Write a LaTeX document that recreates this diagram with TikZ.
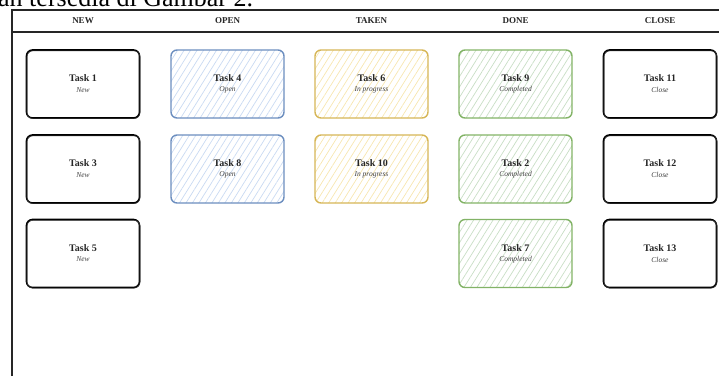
\documentclass[tikz,border=0pt]{standalone}
\usepackage{fontspec}
\setmainfont{Liberation Serif}
\usetikzlibrary{patterns.meta,calc}
\definecolor{bluestroke}{HTML}{6C8EBF}
\definecolor{bluefill}{HTML}{C9DAF2}
\definecolor{yelstroke}{HTML}{D6B656}
\definecolor{yelfill}{HTML}{F7E6B0}
\definecolor{grnstroke}{HTML}{82B366}
\definecolor{grnfill}{HTML}{C8DEC5}
\tikzset{
  hdr/.style={font=\bfseries\fontsize{9}{11}\selectfont, text=black!85},
  ttl/.style={font=\bfseries\fontsize{10}{12}\selectfont, text=black!85},
  sub/.style={font=\itshape\fontsize{7.5}{9}\selectfont, text=black!75},
  card/.style={rounded corners=6pt, line width=1.4pt},
  hatch/.style={pattern={Lines[angle=58,distance=5.5pt,line width=0.7pt]}, pattern color=#1},
  frame/.style={line width=1.1pt, black!85},
}
\newcommand{\taskcard}[6]{% name, cx, cy, title, subtitle, kind
  \coordinate (#1) at (#2,#3);
  \ifx#6k
    \draw[card, line width=1.6pt, black] ($(#1)+(-56.5,-34)$) rectangle ($(#1)+(56.5,34)$);
    \draw[card, line width=0.6pt, black!80] ($(#1)+(-56,-33.2)$) rectangle ($(#1)+(57,34.6)$);
  \else
    \path[card, hatch=#6fill] ($(#1)+(-56.5,-34)$) rectangle ($(#1)+(56.5,34)$);
    \draw[card, #6stroke] ($(#1)+(-56.5,-34)$) rectangle ($(#1)+(56.5,34)$);
  \fi
  \node[ttl] (#1t) at ($(#1)+(0,-5.5)$) {#4};
  \node[sub] (#1s) at ($(#1)+(0,6)$) {#5};
}
\begin{document}
\begin{tikzpicture}[x=1pt,y=-1pt]
\useasboundingbox (0,0) rectangle (719,376);
\clip (0,0) rectangle (719,376);
\node[anchor=base west, inner sep=0pt, font=\fontsize{26}{30}\selectfont] (cap) at (-2,6.5) {an tersedia di Gambar 2.};
% frame
\draw[frame] (12,376) -- (12,10) -- (719,10);
\draw[frame, line width=1.5pt] (12,32) -- (719,32);
% headers
\node[hdr] (hnew) at (83,21) {NEW};
\node[hdr] (hopen) at (227.5,21) {OPEN};
\node[hdr] (htaken) at (371.5,21) {TAKEN};
\node[hdr] (hdone) at (515.5,21) {DONE};
\node[hdr] (hclose) at (660,21) {CLOSE};
% cards
\taskcard{t1}{83}{84}{Task 1}{New}{k}
\taskcard{t3}{83}{169}{Task 3}{New}{k}
\taskcard{t5}{83}{253.5}{Task 5}{New}{k}
\taskcard{t4}{227.5}{84}{Task 4}{Open}{blue}
\taskcard{t8}{227.5}{169}{Task 8}{Open}{blue}
\taskcard{t6}{371.5}{84}{Task 6}{In progress}{yel}
\taskcard{t10}{371.5}{169}{Task 10}{In progress}{yel}
\taskcard{t9}{515.5}{84}{Task 9}{Completed}{grn}
\taskcard{t2}{515.5}{169}{Task 2}{Completed}{grn}
\taskcard{t7}{515.5}{253.5}{Task 7}{Completed}{grn}
\taskcard{t11}{660}{84}{Task 11}{Close}{k}
\taskcard{t12}{660}{169}{Task 12}{Close}{k}
\taskcard{t13}{660}{253.5}{Task 13}{Close}{k}
\end{tikzpicture}
\end{document}
